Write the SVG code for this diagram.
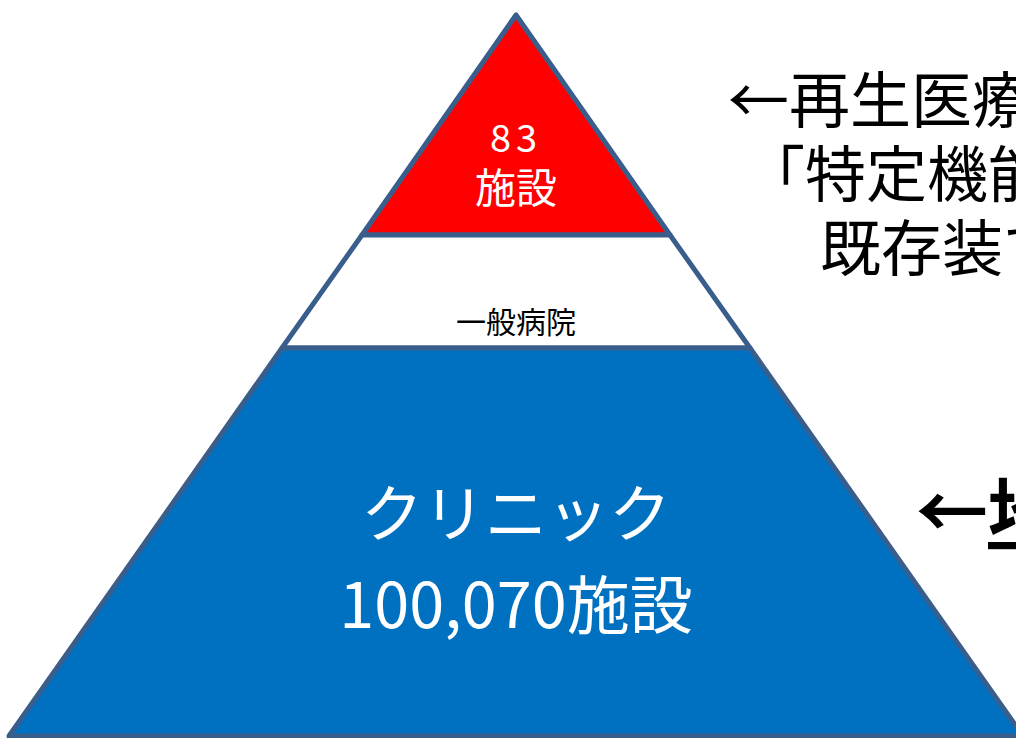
<svg xmlns="http://www.w3.org/2000/svg" width="1016" height="738" viewBox="0 0 1016 738">
<style>
.tier{stroke:#3A5E8C;stroke-width:5;stroke-linejoin:round}
.jp{font-family:"Noto Sans CJK JP","Noto Sans",sans-serif}
.w{fill:#FFFFFF}
.k{fill:#000000}
</style>
<rect width="1016" height="738" fill="#FFFFFF"/>
<g id="tier-top">
<polygon class="tier" fill="#FF0000" points="516,15 362,235 670,235"/>
<text class="jp w" x="516" y="152" font-size="38" letter-spacing="5" text-anchor="middle">83</text>
<text class="jp w" x="516" y="203" font-size="41" text-anchor="middle">施設</text>
</g>
<g id="tier-middle">
<polygon class="tier" fill="#FFFFFF" points="362,235 670,235 750,348 282,348"/>
<text class="jp k" x="516" y="333" font-size="30" text-anchor="middle">一般病院</text>
</g>
<g id="tier-bottom">
<polygon class="tier" fill="#0070C0" points="282,348 750,348 1023,736 9,736"/>
<text class="jp w" x="516" y="537" font-size="62" text-anchor="middle">クリニック</text>
<text class="jp w" x="516" y="628" font-size="63" text-anchor="middle">100,070施設</text>
</g>
<g id="note-top">
<text class="jp k" x="728" y="123" font-size="61">←再生医療</text>
<text class="jp k" x="744" y="197" font-size="61">「特定機能</text>
<text class="jp k" x="820" y="271" font-size="61">既存装で</text>
</g>
<g id="note-bottom">
<text class="jp k" x="916" y="538" font-size="72" font-weight="bold">←<tspan text-decoration="underline">地域</tspan></text>
</g>
</svg>
